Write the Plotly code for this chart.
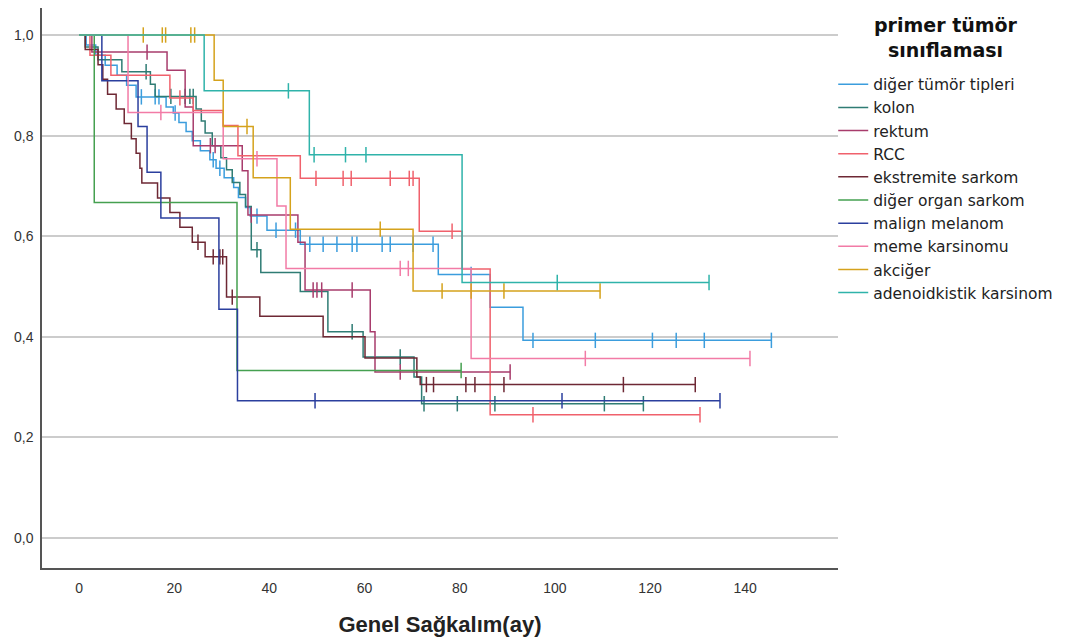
import plotly.graph_objects as go

# ---------------- data (months, survival) ----------------
names = ["diğer tümör tipleri", "kolon", "rektum", "RCC", "ekstremite sarkom",
         "diğer organ sarkom", "malign melanom", "meme karsinomu", "akciğer",
         "adenoidkistik karsinom"]
legend_title = "primer tümör<br>sınıflaması"
x_title = "Genel Sağkalım(ay)"

diger_t = [0, 1.5, 3.5, 5.5, 8, 10, 12, 18.3, 19.8, 21, 22.5, 23.8, 25.5, 27.5, 28.8, 30.5,
           32.5, 33.5, 35, 36, 39.5, 46.5, 75.5, 86.4, 93.3]
diger_s = [1.0, 0.98, 0.96, 0.94, 0.92, 0.90, 0.877, 0.857, 0.845, 0.826, 0.808, 0.79, 0.77,
           0.752, 0.735, 0.716, 0.697, 0.677, 0.657, 0.64, 0.612, 0.584, 0.524, 0.459, 0.393]
diger_c = [13.1, 16, 16.8, 20.2, 28.2, 29.6, 37.4, 41.4, 45.5, 48.5, 51.3, 54.2, 57.4, 58.4,
           63.7, 65.4, 70.2, 74.4, 82.4, 95.4, 108.5, 120.5, 125.5, 131.4, 145.5]

kolon_t = [0, 1.3, 4, 9, 15, 16, 24.6, 25.7, 26.5, 28, 29.8, 31, 32.2, 33.8, 35, 36.2, 38.2,
           46.5, 52.3, 59.7, 70.4, 72]
kolon_s = [1.0, 0.976, 0.951, 0.927, 0.902, 0.878, 0.853, 0.829, 0.805, 0.78, 0.756, 0.732,
           0.707, 0.683, 0.659, 0.573, 0.528, 0.49, 0.41, 0.36, 0.32, 0.267]
kolon_c = [14.1, 19.3, 22.3, 23.3, 24.0, 37.4, 57.4, 67.5, 72.5, 79.5, 87.4, 110.4, 118.6]

rektum_t = [0, 2.7, 18.5, 22.3, 24, 34.3, 35.5, 46, 47.5, 61.2, 62.2]
rektum_s = [1.0, 0.966, 0.93, 0.857, 0.78, 0.73, 0.642, 0.588, 0.493, 0.41, 0.33]
rektum_c = [14.3, 27.6, 28.6, 36.2, 49.2, 50.0, 51.0, 57.4, 67.5, 90.6]

rcc_t = [0, 2.3, 6.7, 19.1, 24, 30.3, 33.4, 46.5, 71.5, 80.5, 86.4]
rcc_s = [1.0, 0.96, 0.92, 0.875, 0.85, 0.82, 0.76, 0.715, 0.61, 0.535, 0.245]
rcc_c = [21.2, 49.8, 55.5, 57.2, 65.4, 69.4, 70.2, 78.4, 95.4, 130.5]

ekst_t = [0, 1.3, 4, 5, 6, 7.8, 9.5, 11, 12, 12.8, 13.2, 16.5, 19.1, 21.2, 23.8, 26.5, 31,
          38, 51.3, 60.1, 71, 71.7]
ekst_s = [1.0, 0.971, 0.941, 0.912, 0.882, 0.853, 0.824, 0.794, 0.765, 0.735, 0.706, 0.676,
          0.647, 0.618, 0.588, 0.559, 0.479, 0.441, 0.40, 0.358, 0.32, 0.305]
ekst_c = [25.0, 28.2, 29.6, 30.2, 32.2, 73.0, 74.5, 81.3, 83.2, 89.3, 114.4, 129.5]

organ_t = [0, 3.2, 33.2]
organ_s = [1.0, 0.667, 0.333]
organ_c = [80.3]

melanom_t = [0, 4.8, 12.4, 14.3, 17.2, 29.4, 33.3]
melanom_s = [1.0, 0.909, 0.818, 0.727, 0.636, 0.455, 0.273]
melanom_c = [49.6, 101.5, 134.7]

meme_t = [0, 10.3, 30.3, 41.6, 43.5, 82.4]
meme_s = [1.0, 0.846, 0.754, 0.66, 0.536, 0.357]
meme_c = [17.2, 37.4, 67.5, 69.2, 106.4, 141.0]

akciger_t = [0, 28.4, 30.3, 36.6, 44.4, 70.2]
akciger_s = [1.0, 0.91, 0.818, 0.716, 0.614, 0.491]
akciger_c = [13.5, 17.5, 18.2, 23.5, 24.3, 35.3, 63.3, 76.3, 82.4, 89.3, 109.5]

adeno_t = [0, 26.3, 48.4, 80.5]
adeno_s = [1.0, 0.889, 0.762, 0.508]
adeno_c = [44.0, 49.4, 56.0, 60.3, 100.5, 132.4]

colors = ["#3b9ddd", "#2f7c74", "#a83c6c", "#f0616c", "#6e2834",
          "#45a050", "#2b3f9e", "#f27ba6", "#d5a21c", "#2fb3aa"]

y_ticks = [0.0, 0.2, 0.4, 0.6, 0.8, 1.0]
y_labels = ["0,0", "0,2", "0,4", "0,6", "0,8", "1,0"]
x_ticks = [0, 20, 40, 60, 80, 100, 120, 140]

series = [(diger_t, diger_s, diger_c), (kolon_t, kolon_s, kolon_c),
          (rektum_t, rektum_s, rektum_c), (rcc_t, rcc_s, rcc_c),
          (ekst_t, ekst_s, ekst_c), (organ_t, organ_s, organ_c),
          (melanom_t, melanom_s, melanom_c), (meme_t, meme_s, meme_c),
          (akciger_t, akciger_s, akciger_c), (adeno_t, adeno_s, adeno_c)]


def surv_at(ts, ss, t):
    v = ss[0]
    for ti, si in zip(ts, ss):
        if ti <= t:
            v = si
    return v


fig = go.Figure()
for i, (name, (ts, ss, cs), col) in enumerate(zip(names, series, colors)):
    xs = list(ts)
    ys = list(ss)
    end = max(cs) if cs else ts[-1]
    if end > xs[-1]:
        xs.append(end)
        ys.append(ys[-1])
    fig.add_trace(go.Scatter(x=xs, y=ys, mode="lines", line=dict(color=col, width=1.5, shape="hv"),
                             name=name, legendgroup=name, hoverinfo="skip"))
    fig.add_trace(go.Scatter(x=cs, y=[surv_at(ts, ss, c) for c in cs], mode="markers",
                             marker=dict(symbol="line-ns", size=11, line=dict(color=col, width=1.5)),
                             legendgroup=name, showlegend=False, hoverinfo="skip"))

# legend title (two centred lines)
fig.add_annotation(text="<b>" + legend_title + "</b>", xref="paper", yref="paper",
                   x=1.1357, y=0.947, xanchor="center", yanchor="middle", align="center",
                   showarrow=False,
                   font=dict(size=19, color="#111111", family="DejaVu Sans, sans-serif"))

fig.update_layout(
    width=1069, height=636,
    margin=dict(l=34, r=239, t=0, b=76, autoexpand=False),
    paper_bgcolor="white", plot_bgcolor="white",
    font=dict(family="Liberation Sans, Arial, sans-serif", color="#222222", size=13),
    showlegend=True,
    legend=dict(
        x=0.994, xanchor="left", y=0.8934, yanchor="top",
        font=dict(size=15.5, color="#222222", family="DejaVu Sans, sans-serif"),
        traceorder="grouped", tracegroupgap=0, bgcolor="rgba(255,255,255,0)",
    ),
    xaxis=dict(range=[-7.78, 159.5], tickvals=x_ticks, showgrid=False, zeroline=False,
               showline=True, linecolor="#555555", linewidth=1.5,
               ticks="outside", ticklen=6, tickcolor="rgba(0,0,0,0)",
               tickfont=dict(size=14, color="#333333"),
               title=dict(text="<b>" + x_title + "</b>", font=dict(size=22, color="#222222"),
                          standoff=22)),
    yaxis=dict(range=[-0.0596, 1.0537], tickvals=y_ticks, ticktext=y_labels,
               showgrid=True, gridcolor="#cccccc", gridwidth=1.5, zeroline=False,
               showline=True, linecolor="#555555", linewidth=1.5,
               ticks="outside", ticklen=4, tickcolor="rgba(0,0,0,0)",
               tickfont=dict(size=14, color="#333333")),
)

fig.write_html("out.html")
